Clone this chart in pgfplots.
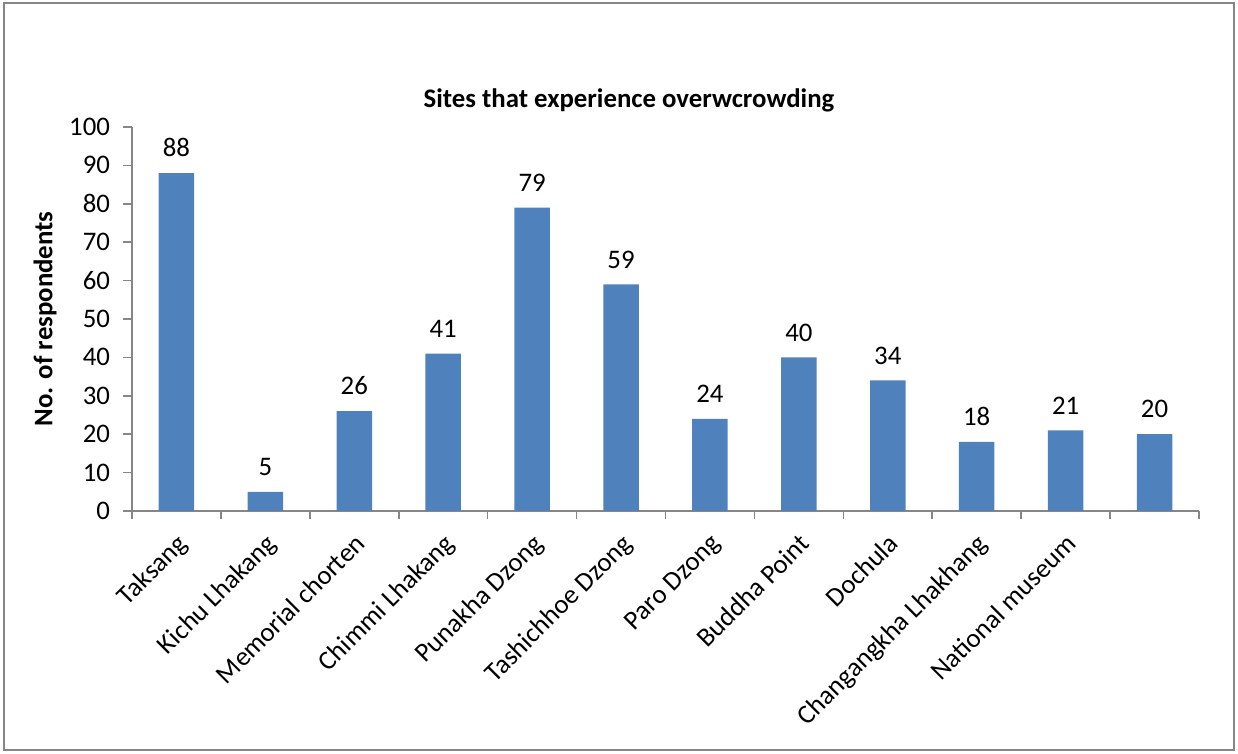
\documentclass[border=0pt]{standalone}
\usepackage{pgfplots}
\pgfplotsset{compat=1.18}
\usepackage{fontspec}
\setmainfont{Carlito}
\definecolor{barblue}{HTML}{4F81BD}
\definecolor{axgray}{HTML}{868686}
\begin{document}
\begin{tikzpicture}
\useasboundingbox (-66pt,-121.5pt) rectangle (553pt,255.5pt);
\draw[color=axgray, line width=0.8pt] (-64pt,-119.5pt) rectangle (551pt,254pt);
\begin{axis}[
  at={(0,0)}, anchor=south west,
  scale only axis,
  width=533.5pt, height=192pt,
  font=\fontsize{13.4}{15}\selectfont,
  ymin=0, ymax=100,
  ytick={0,10,...,100},
  xmin=-0.5, xmax=11.5,
  xtick={0,...,11},
  xticklabels={Taksang,Kichu Lhakang,Memorial chorten,Chimmi Lhakang,Punakha Dzong,Tashichhoe Dzong,Paro Dzong,Buddha Point,Dochula,Changangkha Lhakhang,National museum,{}},
  minor xtick={-0.5,0.5,...,11.5},
  x tick style={draw=none},
  minor x tick style={draw=axgray, line width=0.8pt},
  y tick style={draw=axgray, line width=0.8pt},
  major tick length=4.5pt,
  minor tick length=4pt,
  tick align=outside,
  axis lines*=left,
  axis line style={draw=axgray, line width=0.8pt, -},
  xticklabel style={xshift=-0.5pt, yshift=-4.5pt, rotate=45, anchor=north east, inner sep=1pt},
  yticklabel style={xshift=-3pt},
  /pgf/number format/assume math mode=true,
  ylabel={\bfseries No. of respondents},
  ylabel style={at={(axis description cs:-0.0815,0.5)}, anchor=center},
  ybar, bar width=17.75pt,
  nodes near coords,
  every node near coord/.append style={yshift=4.5pt},
  clip=false,
]
\addplot[fill=barblue, draw=none] coordinates {
(0,88) (1,5) (2,26) (3,41) (4,79) (5,59) (6,24) (7,40) (8,34) (9,18) (10,21) (11,20)};
\node[font=\fontsize{13.4}{15}\selectfont\bfseries] at (rel axis cs:0.4658,1.070) {Sites that experience overwcrowding};
\end{axis}
\end{tikzpicture}
\end{document}
